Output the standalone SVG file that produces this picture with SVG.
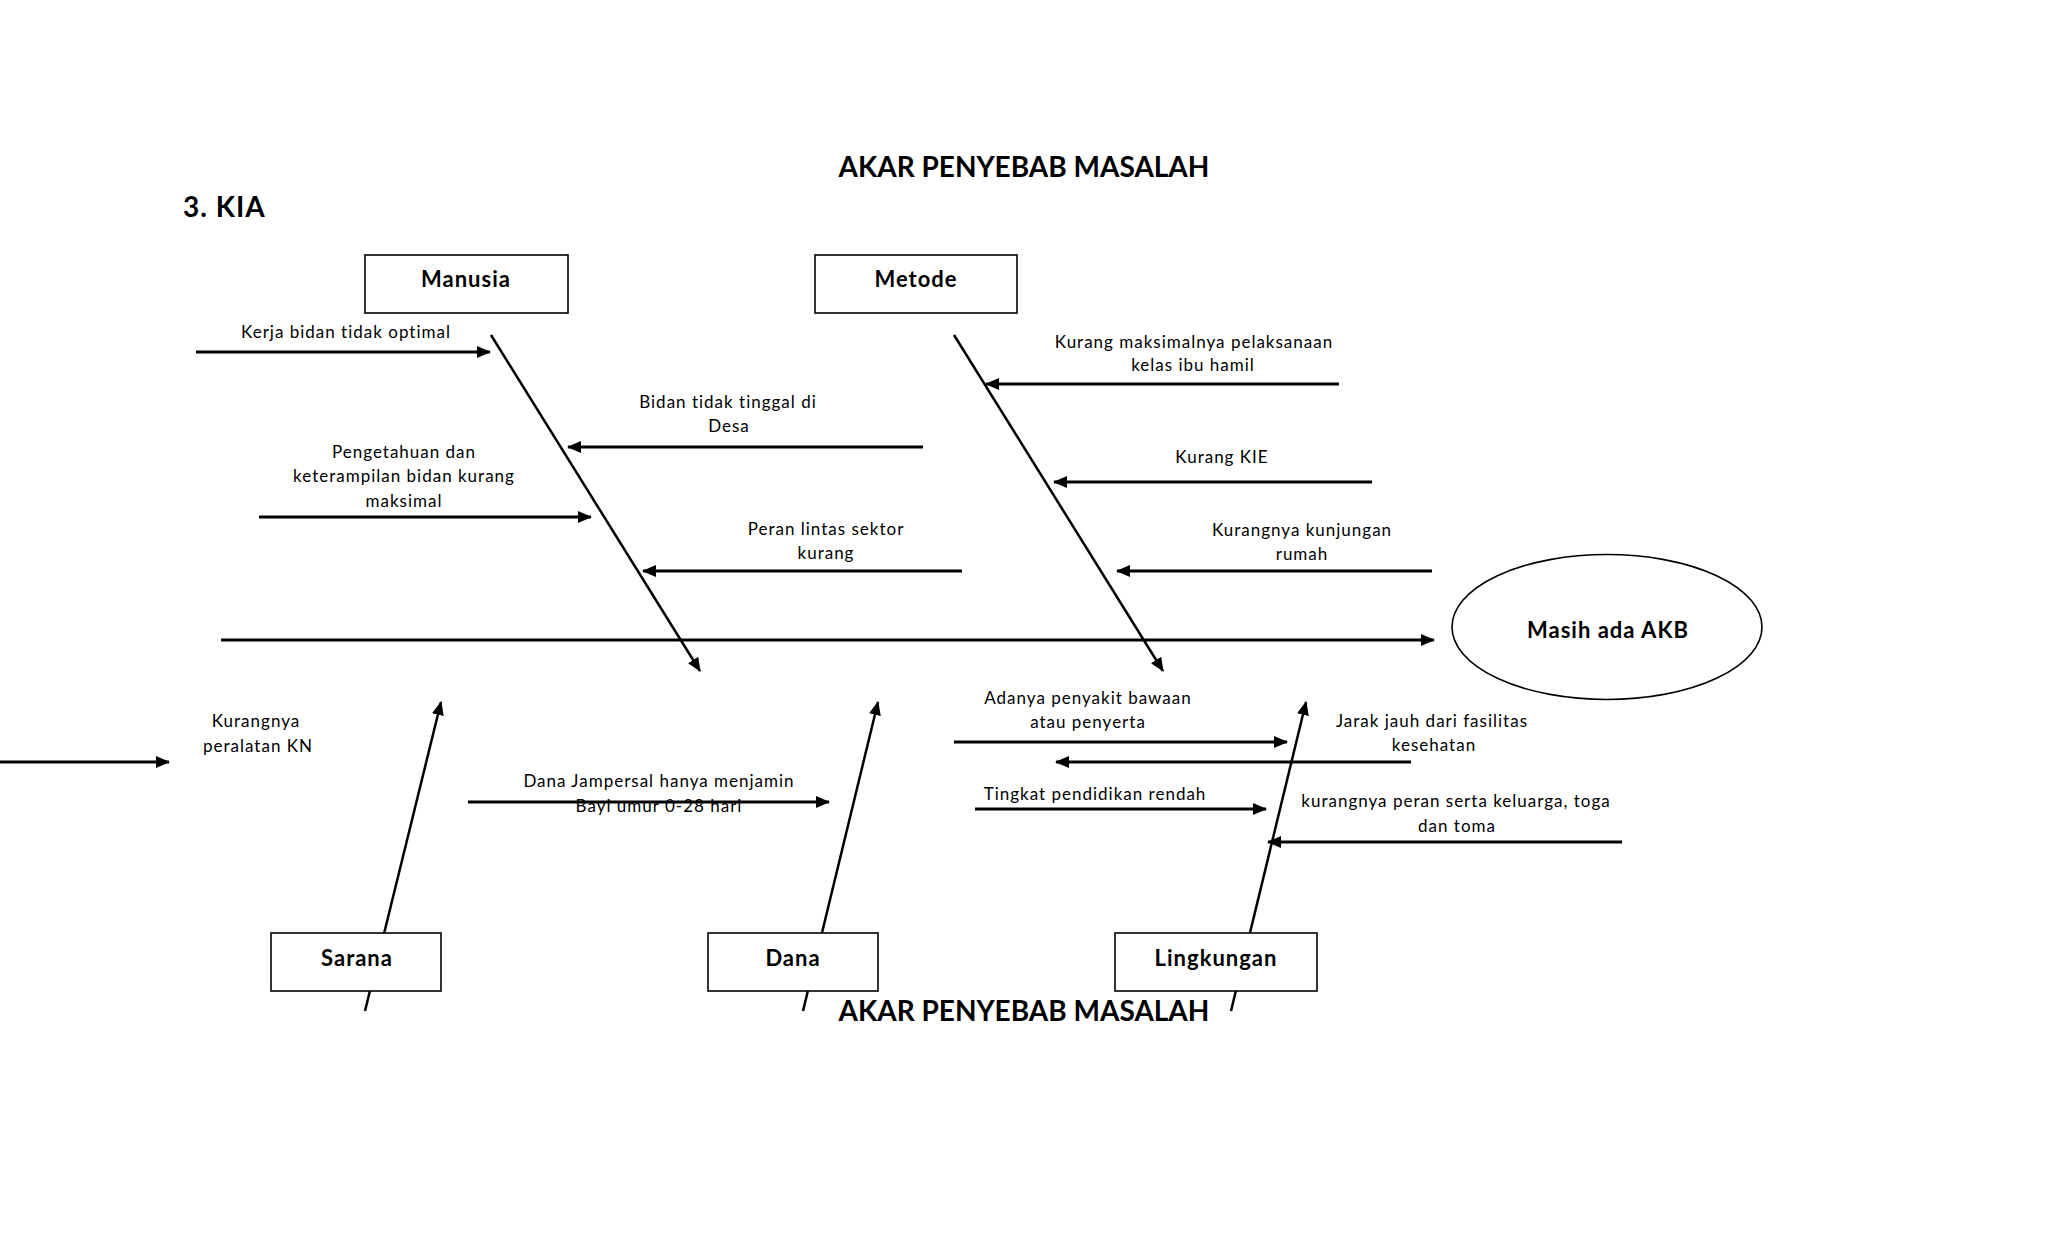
<svg xmlns="http://www.w3.org/2000/svg" width="2048" height="1243" viewBox="0 0 2048 1243">
<style>
text{font-family:Lato,"Liberation Sans",sans-serif;fill:#000}
.t{font-size:17px;letter-spacing:1px;text-anchor:middle}
.h{font-size:22px;letter-spacing:1px;font-weight:bold;text-anchor:middle}
.ti{font-size:28px;font-weight:bold}
.box{fill:#fff;stroke:#000;stroke-width:1.6}
.bone{stroke:#000;stroke-width:2.5;fill:none}
.arr{stroke:#000;stroke-width:3;fill:none}
</style>
<defs>
<marker id="ah" markerUnits="userSpaceOnUse" markerWidth="14" markerHeight="12" refX="13" refY="6" orient="auto" viewBox="0 0 14 12">
<path d="M0,0 L14,6 L0,12 z" fill="#000"/>
</marker>
</defs>
<rect width="2048" height="1243" fill="#fff"/>
<g id="titles">
<text class="ti" x="1024" y="177" text-anchor="middle">AKAR PENYEBAB MASALAH</text>
<text class="ti" x="183" y="217" letter-spacing="1">3. KIA</text>
<text class="ti" x="1024" y="1021" text-anchor="middle">AKAR PENYEBAB MASALAH</text>
</g>
<g id="connectors">
<line class="arr" x1="221" y1="640" x2="1434" y2="640" marker-end="url(#ah)"/>
<line class="bone" x1="491" y1="335" x2="700" y2="671" marker-end="url(#ah)"/>
<line class="bone" x1="954" y1="335" x2="1163" y2="671" marker-end="url(#ah)"/>
<line class="bone" x1="365" y1="1011" x2="441" y2="702" marker-end="url(#ah)"/>
<line class="bone" x1="803" y1="1011" x2="878" y2="702" marker-end="url(#ah)"/>
<line class="bone" x1="1231" y1="1011" x2="1306" y2="702" marker-end="url(#ah)"/>
<line class="arr" x1="196" y1="352" x2="490" y2="352" marker-end="url(#ah)"/>
<line class="arr" x1="923" y1="447" x2="568" y2="447" marker-end="url(#ah)"/>
<line class="arr" x1="259" y1="517" x2="591" y2="517" marker-end="url(#ah)"/>
<line class="arr" x1="962" y1="571" x2="643" y2="571" marker-end="url(#ah)"/>
<line class="arr" x1="1339" y1="384" x2="986" y2="384" marker-end="url(#ah)"/>
<line class="arr" x1="1372" y1="482" x2="1054" y2="482" marker-end="url(#ah)"/>
<line class="arr" x1="1432" y1="571" x2="1117" y2="571" marker-end="url(#ah)"/>
<line class="arr" x1="0" y1="762" x2="169" y2="762" marker-end="url(#ah)"/>
<line class="arr" x1="468" y1="802" x2="829" y2="802" marker-end="url(#ah)"/>
<line class="arr" x1="954" y1="742" x2="1287" y2="742" marker-end="url(#ah)"/>
<line class="arr" x1="1411" y1="762" x2="1056" y2="762" marker-end="url(#ah)"/>
<line class="arr" x1="975" y1="809" x2="1266" y2="809" marker-end="url(#ah)"/>
<line class="arr" x1="1622" y1="842" x2="1268" y2="842" marker-end="url(#ah)"/>
</g>
<g id="manusia"><rect class="box" x="365" y="255" width="203" height="58"/><text class="h" x="466" y="287">Manusia</text></g>
<g id="metode"><rect class="box" x="815" y="255" width="202" height="58"/><text class="h" x="916" y="287">Metode</text></g>
<g id="sarana"><rect class="box" x="271" y="933" width="170" height="58"/><text class="h" x="357" y="966">Sarana</text></g>
<g id="dana"><rect class="box" x="708" y="933" width="170" height="58"/><text class="h" x="793" y="966">Dana</text></g>
<g id="lingkungan"><rect class="box" x="1115" y="933" width="202" height="58"/><text class="h" x="1216" y="966">Lingkungan</text></g>
<g id="akb"><ellipse cx="1607" cy="627" rx="155" ry="72.5" fill="#fff" stroke="#000" stroke-width="1.6"/><text class="h" x="1608" y="638">Masih ada AKB</text></g>
<g id="labels">
<text class="t" x="346" y="338">Kerja bidan tidak optimal</text>
<text class="t" x="728" y="408">Bidan tidak tinggal di</text>
<text class="t" x="729" y="432">Desa</text>
<text class="t" x="404" y="458">Pengetahuan dan</text>
<text class="t" x="404" y="482">keterampilan bidan kurang</text>
<text class="t" x="404" y="507">maksimal</text>
<text class="t" x="826" y="535">Peran lintas sektor</text>
<text class="t" x="826" y="559">kurang</text>
<text class="t" x="1194" y="348">Kurang maksimalnya pelaksanaan</text>
<text class="t" x="1193" y="371">kelas ibu hamil</text>
<text class="t" x="1222" y="463">Kurang KIE</text>
<text class="t" x="1302" y="536">Kurangnya kunjungan</text>
<text class="t" x="1302" y="560">rumah</text>
<text class="t" x="256" y="727">Kurangnya</text>
<text class="t" x="258" y="752">peralatan KN</text>
<text class="t" x="659" y="787">Dana Jampersal hanya menjamin</text>
<text class="t" x="659" y="812">Bayi umur 0-28 hari</text>
<text class="t" x="1088" y="704">Adanya penyakit bawaan</text>
<text class="t" x="1088" y="728">atau penyerta</text>
<text class="t" x="1432" y="727">Jarak jauh dari fasilitas</text>
<text class="t" x="1434" y="751">kesehatan</text>
<text class="t" x="1095" y="800">Tingkat pendidikan rendah</text>
<text class="t" x="1456" y="807">kurangnya peran serta keluarga, toga</text>
<text class="t" x="1457" y="832">dan toma</text>
</g>
</svg>
